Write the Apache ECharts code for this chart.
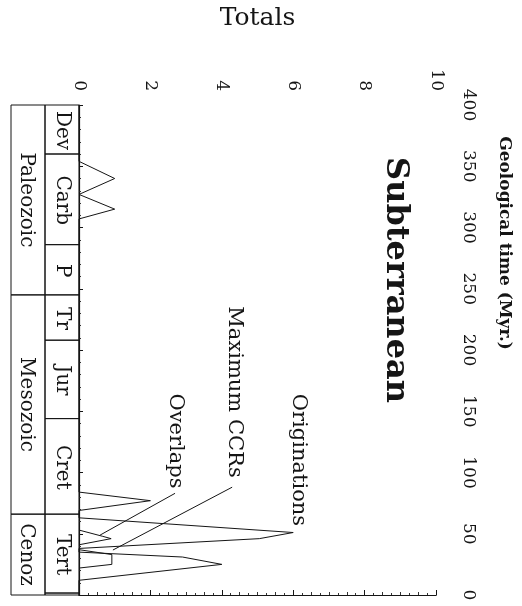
<!DOCTYPE html>
<html>
<head>
<meta charset="utf-8">
<script src="https://cdn.jsdelivr.net/npm/echarts@6/dist/echarts.min.js"></script>
<style>
  html, body { margin: 0; padding: 0; background: #fff; }
  #chart { width: 522px; height: 606px; }
</style>
</head>
<body>
<div id="chart"></div>
<script>
// geological time scale (Myr.)
const periodNames = ['Dev', 'Carb', 'P', 'Tr', 'Jur', 'Cret', 'Tert', '']
const periodStart = [400, 360, 286, 245, 208, 144, 66, 1.6]
const periodEnd = [360, 286, 245, 208, 144, 66, 1.6, 0]
const eraNames = ['Paleozoic', 'Mesozoic', 'Cenoz']
const eraStart = [400, 245, 66]
const eraEnd = [245, 66, 0]

// totals per time
const origTime = [400, 354, 340, 327, 315, 307, 84, 77, 69, 63, 51, 46, 38, 35, 31, 25, 12, 0]
const origValue = [0, 0, 1, 0, 1, 0, 0, 2, 0, 0, 6, 5.05, 0, 0, 2.9, 4, 0, 0]
const ccrTime = [37, 33, 25, 22]
const ccrValue = [0, 0.92, 0.92, 0]
const overlapTime = [53, 48, 46, 41]
const overlapValue = [0, 0.65, 0.9, 0]

// annotation arrows: [fromValue, fromTime, toValue, toTime]
const arrowOverlaps = [2.69, 83, 0.59, 48.9]
const arrowCCRs = [4.29, 88, 0.95, 36.7]

const serif = 'DejaVu Serif'
const ink = '#151515'

const zip = (vals, times) => vals.map((v, i) => [v, times[i]])

const chart = echarts.init(document.getElementById('chart'))

const textEl = (text, x, y, size, weight) => ({
  type: 'text',
  x: x,
  y: y,
  rotation: -Math.PI / 2,
  style: {
    text: text,
    fill: ink,
    font: `${weight || 'normal'} ${size}px "${serif}"`,
    textAlign: 'center',
    textVerticalAlign: 'middle'
  }
})

const option = {
  animation: false,
  backgroundColor: '#fff',
  grid: { left: 79, right: 86, top: 105, bottom: 11 },
  xAxis: [
    {
      type: 'value',
      position: 'top',
      min: 0,
      max: 10,
      interval: 2,
      name: 'Totals',
      nameLocation: 'middle',
      nameGap: 74,
      nameTextStyle: { fontFamily: serif, fontSize: 25, color: ink },
      axisLine: { show: true, lineStyle: { color: ink, width: 1 } },
      axisTick: { show: true, length: 5, lineStyle: { color: ink } },
      minorTick: { show: true, splitNumber: 8, length: 2, lineStyle: { color: '#333' } },
      axisLabel: { rotate: -90, fontFamily: serif, fontSize: 17, color: ink, margin: 14 },
      splitLine: { show: false }
    },
    {
      type: 'value',
      position: 'bottom',
      min: 0,
      max: 10,
      interval: 2,
      axisLine: { show: true, lineStyle: { color: ink, width: 1 } },
      axisTick: { show: true, inside: true, length: 5, lineStyle: { color: ink } },
      minorTick: { show: true, splitNumber: 4, length: 3, lineStyle: { color: '#333' } },
      axisLabel: { show: false },
      splitLine: { show: false }
    }
  ],
  yAxis: {
    type: 'value',
    position: 'right',
    min: 0,
    max: 400,
    interval: 50,
    axisLine: { show: true, lineStyle: { color: ink, width: 1.2 } },
    axisTick: { show: true, length: 4, lineStyle: { color: ink } },
    minorTick: { show: true, splitNumber: 5, length: 2, lineStyle: { color: '#333' } },
    axisLabel: { rotate: -90, fontFamily: serif, fontSize: 17, color: ink, margin: 24 },
    splitLine: { show: false }
  },
  graphic: [
    textEl('Geological time (Myr.)', 504, 243, 17, 'bold'),
    textEl('Subterranean', 395, 280, 32, 'bold'),
    textEl('Originations', 298, 460, 21),
    textEl('Maximum CCRs', 234, 392, 21),
    textEl('Overlaps', 175, 441, 21)
  ],
  series: [
    {
      type: 'custom',
      name: 'periods',
      clip: false,
      silent: true,
      encode: { x: 0, y: [1, 2] },
      data: periodNames.map((n, i) => [0, periodStart[i], periodEnd[i], i]),
      renderItem: (params, api) => {
        const i = api.value(3)
        const top = api.coord([0, api.value(1)])
        const bot = api.coord([0, api.value(2)])
        const x0 = top[0] - 34
        const h = bot[1] - top[1]
        return {
          type: 'group',
          children: [
            {
              type: 'rect',
              shape: { x: x0, y: top[1], width: 34, height: h },
              style: { fill: 'none', stroke: ink, lineWidth: 1 }
            },
            textEl(periodNames[i], x0 + 17, top[1] + h / 2 + 1, 20)
          ]
        }
      }
    },
    {
      type: 'custom',
      name: 'eras',
      clip: false,
      silent: true,
      encode: { x: 0, y: [1, 2] },
      data: eraNames.map((n, i) => [0, eraStart[i], eraEnd[i], i]),
      renderItem: (params, api) => {
        const i = api.value(3)
        const top = api.coord([0, api.value(1)])
        const bot = api.coord([0, api.value(2)])
        const x0 = top[0] - 68
        const h = bot[1] - top[1]
        return {
          type: 'group',
          children: [
            {
              type: 'rect',
              shape: { x: x0, y: top[1], width: 34, height: h },
              style: { fill: 'none', stroke: ink, lineWidth: 1 }
            },
            textEl(eraNames[i], x0 + 15, top[1] + h / 2, 20)
          ]
        }
      }
    },
    {
      type: 'line',
      name: 'Originations',
      data: zip(origValue, origTime),
      symbol: 'none',
      lineStyle: { color: ink, width: 1 }
    },
    {
      type: 'line',
      name: 'Maximum CCRs',
      data: zip(ccrValue, ccrTime),
      symbol: 'none',
      lineStyle: { color: ink, width: 1 }
    },
    {
      type: 'line',
      name: 'Overlaps',
      data: zip(overlapValue, overlapTime),
      symbol: 'none',
      lineStyle: { color: ink, width: 1 },
      markLine: {
        silent: true,
        symbol: ['none', 'arrow'],
        symbolSize: [0, 11],
        label: { show: false },
        lineStyle: { color: ink, width: 1, type: 'solid' },
        data: [
          [{ coord: [arrowOverlaps[0], arrowOverlaps[1]] }, { coord: [arrowOverlaps[2], arrowOverlaps[3]] }],
          [{ coord: [arrowCCRs[0], arrowCCRs[1]] }, { coord: [arrowCCRs[2], arrowCCRs[3]] }]
        ]
      }
    }
  ]
}

chart.setOption(option)
</script>
</body>
</html>
